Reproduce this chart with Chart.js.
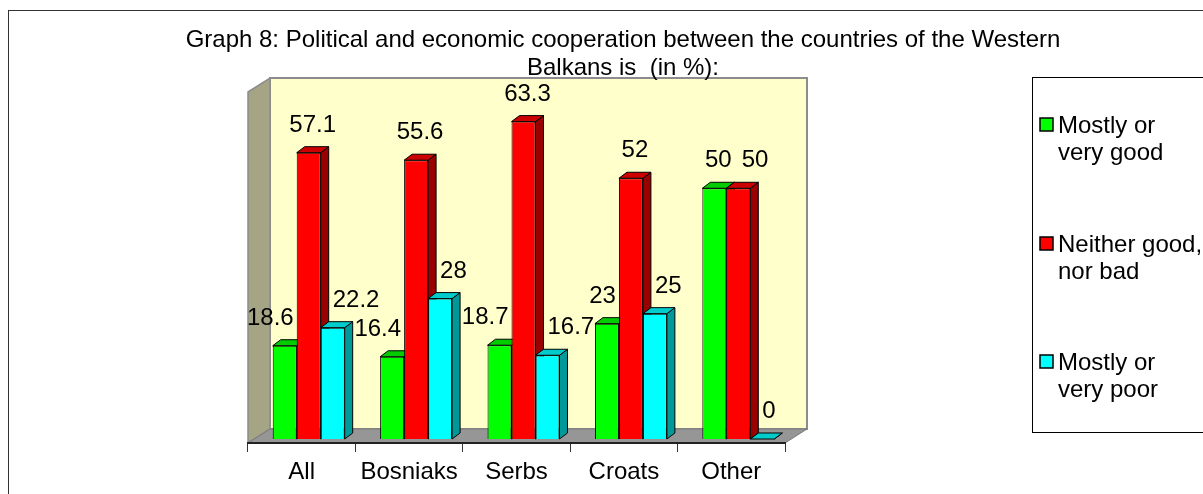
<!DOCTYPE html>
<html>
<head>
<meta charset="utf-8">
<script src="https://cdn.jsdelivr.net/npm/chart.js@4/dist/chart.umd.min.js"></script>
<style>
  html, body { margin: 0; padding: 0; background: #fff; }
  #wrap { width: 1203px; height: 494px; position: relative; }
</style>
</head>
<body>
<div id="wrap"><canvas id="ChartCanvas" width="1203" height="494"></canvas></div>
<script>
// data
const categories = ['All', 'Bosniaks', 'Serbs', 'Croats', 'Other'];
const goodValues = [18.6, 16.4, 18.7, 23, 50];
const neutralValues = [57.1, 55.6, 63.3, 52, 50];
const poorValues = [22.2, 28, 16.7, 25, 0];
const seriesLabels = [['Mostly or', 'very good'], ['Neither good,', 'nor bad'], ['Mostly or', 'very poor']];
const titleLines = ['Graph 8: Political and economic cooperation between the countries of the Western', 'Balkans is  (in %):'];

const FONT = '"Liberation Sans", Arial, sans-serif';
const FONT_SIZE = 24;

const frontColors = ['#00FF00', '#FF0000', '#00FFFF'];
const sideColors = ['#009900', '#990000', '#009999'];
const topColors = ['#00CC00', '#CC0000', '#00CCCC'];

// 3d look: depth of the walls, offset of the bar row, depth of a bar
const WALL_DX = 22, WALL_DY = 14;
const ROW_DX = 7, ROW_DY = -4;
const BAR_DX = 8, BAR_DY = -6;

/**
 * Walls, floor, outer frame, title and legend (drawn below the scales).
 */
const backdrop = {
  id: 'backdrop',
  beforeDraw: chart => {
    const ctx = chart.ctx;
    const {left, right, top, bottom} = chart.chartArea;
    ctx.save();

    // outer frame
    ctx.strokeStyle = '#333';
    ctx.lineWidth = 1;
    ctx.strokeRect(8.5, 10.5, 1400, 600);

    // back wall
    ctx.fillStyle = '#FFFFCC';
    ctx.fillRect(left + WALL_DX, top - WALL_DY, right - left, bottom - top);
    ctx.strokeStyle = '#8c8c8c';
    ctx.lineWidth = 2;
    ctx.strokeRect(left + WALL_DX, top - WALL_DY, right - left, bottom - top);

    // left wall
    ctx.beginPath();
    ctx.moveTo(left, top);
    ctx.lineTo(left + WALL_DX, top - WALL_DY);
    ctx.lineTo(left + WALL_DX, bottom - WALL_DY);
    ctx.lineTo(left, bottom);
    ctx.closePath();
    ctx.fillStyle = '#A5A585';
    ctx.fill();
    ctx.lineWidth = 1.5;
    ctx.strokeStyle = '#8c8c8c';
    ctx.stroke();

    // floor
    ctx.beginPath();
    ctx.moveTo(left, bottom);
    ctx.lineTo(right, bottom);
    ctx.lineTo(right + WALL_DX, bottom - WALL_DY);
    ctx.lineTo(left + WALL_DX, bottom - WALL_DY);
    ctx.closePath();
    ctx.fillStyle = '#969696';
    ctx.fill();
    ctx.strokeStyle = '#7a7a7a';
    ctx.lineWidth = 1;
    ctx.stroke();

    // title
    ctx.fillStyle = '#000';
    ctx.font = FONT_SIZE + 'px ' + FONT;
    ctx.textAlign = 'center';
    ctx.textBaseline = 'alphabetic';
    ctx.fillText(titleLines[0], 623, 47);
    ctx.fillText(titleLines[1], 623, 75);

    // legend
    ctx.strokeStyle = '#000';
    ctx.lineWidth = 1;
    ctx.strokeRect(1032.5, 77.5, 400, 355);
    ctx.textAlign = 'left';
    const legendY = [133, 252, 370];
    chart.data.datasets.forEach((ds, i) => {
      const y = legendY[i];
      ctx.fillStyle = ds.backgroundColor;
      ctx.fillRect(1040, y - 15, 13, 13);
      ctx.lineWidth = 1.5;
      ctx.strokeRect(1040, y - 15, 13, 13);
      ctx.fillStyle = '#000';
      seriesLabels[i].forEach((line, j) => {
        ctx.fillText(line, 1058, y + j * 27);
      });
    });

    ctx.restore();
  }
};

/**
 * Side and top faces of the bars, then the shifted front faces.
 */
const bars3d = {
  id: 'bars3d',
  beforeDatasetsDraw: chart => {
    const ctx = chart.ctx;
    ctx.save();
    ctx.translate(ROW_DX, ROW_DY);
    ctx.lineWidth = 1;
    ctx.strokeStyle = '#000';
    categories.forEach((cat, c) => {
      chart.data.datasets.forEach((ds, i) => {
        const bar = chart.getDatasetMeta(i).data[c];
        const l = bar.x - bar.width / 2;
        const r = bar.x + bar.width / 2;
        const t = bar.y;
        const b = bar.base;
        // side
        ctx.beginPath();
        ctx.moveTo(r, t);
        ctx.lineTo(r + BAR_DX, t + BAR_DY);
        ctx.lineTo(r + BAR_DX, b + BAR_DY);
        ctx.lineTo(r, b);
        ctx.closePath();
        ctx.fillStyle = sideColors[i];
        ctx.fill();
        ctx.stroke();
        // top
        ctx.beginPath();
        ctx.moveTo(l, t);
        ctx.lineTo(l + BAR_DX, t + BAR_DY);
        ctx.lineTo(r + BAR_DX, t + BAR_DY);
        ctx.lineTo(r, t);
        ctx.closePath();
        ctx.fillStyle = topColors[i];
        ctx.fill();
        ctx.stroke();
      });
    });
    // fronts are drawn by Chart.js with this translation still active
  },
  afterDatasetsDraw: chart => {
    const ctx = chart.ctx;
    ctx.restore();

    // value labels, nudged away from the taller middle bar like Excel does
    ctx.save();
    ctx.font = FONT_SIZE + 'px ' + FONT;
    ctx.fillStyle = '#000';
    ctx.textAlign = 'center';
    ctx.textBaseline = 'alphabetic';
    categories.forEach((cat, c) => {
      const boxes = [];
      const mid = chart.getDatasetMeta(1).data[c];
      const midL = mid.x - mid.width / 2 + ROW_DX;
      const midR = mid.x + mid.width / 2 + ROW_DX + BAR_DX;
      const midTop = mid.y + ROW_DY;
      chart.data.datasets.forEach((ds, i) => {
        const bar = chart.getDatasetMeta(i).data[c];
        const text = String(ds.data[c]);
        const w = ctx.measureText(text).width;
        let cx = bar.x + ROW_DX + 4;
        const baseY = bar.y + ROW_DY - 21;
        if (i === 0 && midTop < baseY && cx + w / 2 > midL - 3) {
          cx = midL - 3 - w / 2;
        }
        if (i === 2 && midTop < baseY && cx - w / 2 < midR + 4) {
          cx = midR + 4 + w / 2;
        }
        boxes.forEach(bx => {
          if (Math.abs(bx.y - baseY) < FONT_SIZE && cx - w / 2 < bx.r + 10 && cx > bx.cx) {
            cx = bx.r + 10 + w / 2;
          }
        });
        boxes.push({cx: cx, r: cx + w / 2, y: baseY});
        ctx.fillText(text, cx, baseY);
      });
    });
    ctx.restore();
  }
};

const chart = new Chart(document.getElementById('ChartCanvas'), {
  type: 'bar',
  data: {
    labels: categories,
    datasets: [{
      label: seriesLabels[0].join(' '),
      data: goodValues,
      backgroundColor: frontColors[0],
      borderColor: '#000',
      borderWidth: 1,
    }, {
      label: seriesLabels[1].join(' '),
      data: neutralValues,
      backgroundColor: frontColors[1],
      borderColor: '#000',
      borderWidth: 1,
    }, {
      label: seriesLabels[2].join(' '),
      data: poorValues,
      backgroundColor: frontColors[2],
      borderColor: '#000',
      borderWidth: 1,
    }]
  },
  options: {
    animation: false,
    responsive: false,
    devicePixelRatio: 1,
    datasets: {
      bar: {
        barPercentage: 1,
        categoryPercentage: 0.67,
      }
    },
    layout: {
      padding: { left: 248, right: 418, top: 92, bottom: 0 }
    },
    scales: {
      x: {
        offset: true,
        grid: {
          offset: true,
          drawOnChartArea: false,
          drawTicks: true,
          tickLength: 9,
          color: '#333',
        },
        border: { display: true, color: '#222', width: 2 },
        ticks: {
          color: '#000',
          padding: 6,
          font: { family: FONT, size: FONT_SIZE },
        },
        afterFit: scale => { scale.height = 51; },
      },
      y: {
        display: false,
        min: 0,
        max: 70,
      }
    },
    plugins: {
      legend: { display: false },
      title: { display: false },
      tooltip: { enabled: false },
    }
  },
  plugins: [backdrop, bars3d],
});
</script>
</body>
</html>
